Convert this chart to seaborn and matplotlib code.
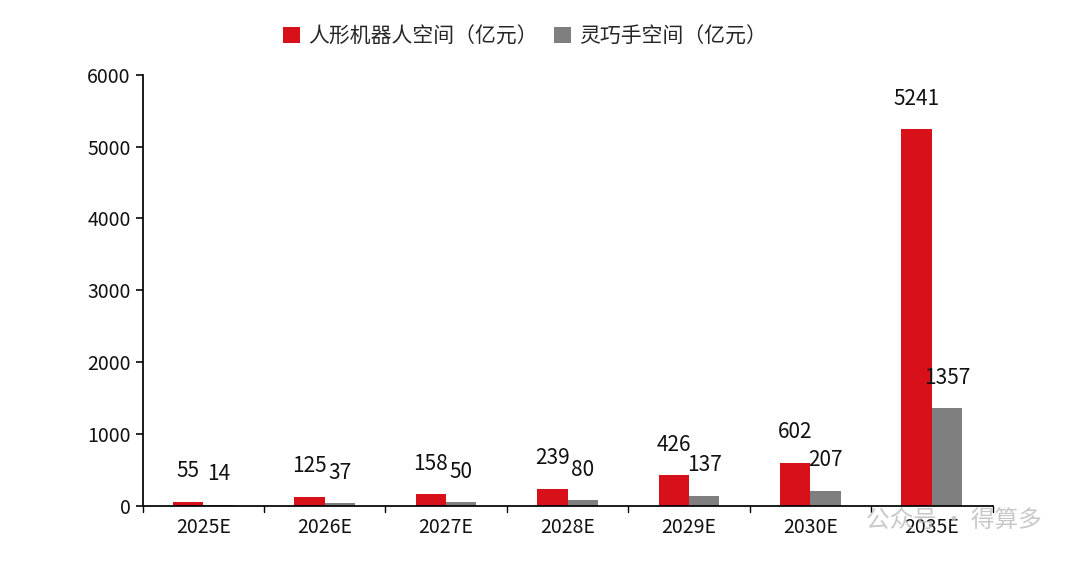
import numpy as np
import pandas as pd
import seaborn as sns
from matplotlib import pyplot as plt

years = ["2025E", "2026E", "2027E", "2028E", "2029E", "2030E", "2035E"]
robot = [55, 125, 158, 239, 426, 602, 5241]
hand = [14, 37, 50, 80, 137, 207, 1357]
series = ["人形机器人空间（亿元）", "灵巧手空间（亿元）"]

df = pd.DataFrame({
    "year": years * 2,
    "value": robot + hand,
    "series": [series[0]] * len(years) + [series[1]] * len(years),
})

sns.set_theme(style="white")
plt.rcParams['font.family'] = ['Noto Sans CJK SC', 'DejaVu Sans']

fig = plt.figure(figsize=(10.8, 5.67), dpi=100)
ax = fig.add_axes([0.132, 0.108, 0.787, 0.76])
sns.barplot(data=df, x="year", y="value", hue="series", ax=ax,
            palette=["#d7101a", "#7f7f7f"], width=0.5, saturation=1, gap=0,
            linewidth=0)

for cont in ax.containers:
    ax.bar_label(cont, fmt="%d", padding=14, fontsize=15, color="#111111")

ax.set_ylim(0, 6000)
ax.set_yticks(range(0, 6001, 1000))
ax.set_xlim(-0.5, len(years) - 0.5)
ax.set_xlabel("")
ax.set_ylabel("")
ax.tick_params(axis="both", labelsize=14, colors="#111111")
ax.tick_params(axis="y", direction="out", length=5, left=True)
ax.tick_params(axis="x", length=0, pad=8)
for x in np.arange(-0.5, len(years), 1.0):
    ax.plot([x, x], [0, -90], color="black", lw=1, clip_on=False)
for s in ["top", "right"]:
    ax.spines[s].set_visible(False)
ax.spines["left"].set_color("black")
ax.spines["bottom"].set_color("black")

ax.legend(loc="lower center", bbox_to_anchor=(0.45, 1.02), ncol=2, frameon=False,
          fontsize=15, handlelength=0.8, handleheight=0.8, columnspacing=0.8,
          handletextpad=0.4)

fig.text(0.965, 0.08, "公众号 · 得算多", fontsize=17, color="#bbbbbb",
         ha="right", va="center", alpha=0.8)

fig.savefig("out.png", dpi=100)
